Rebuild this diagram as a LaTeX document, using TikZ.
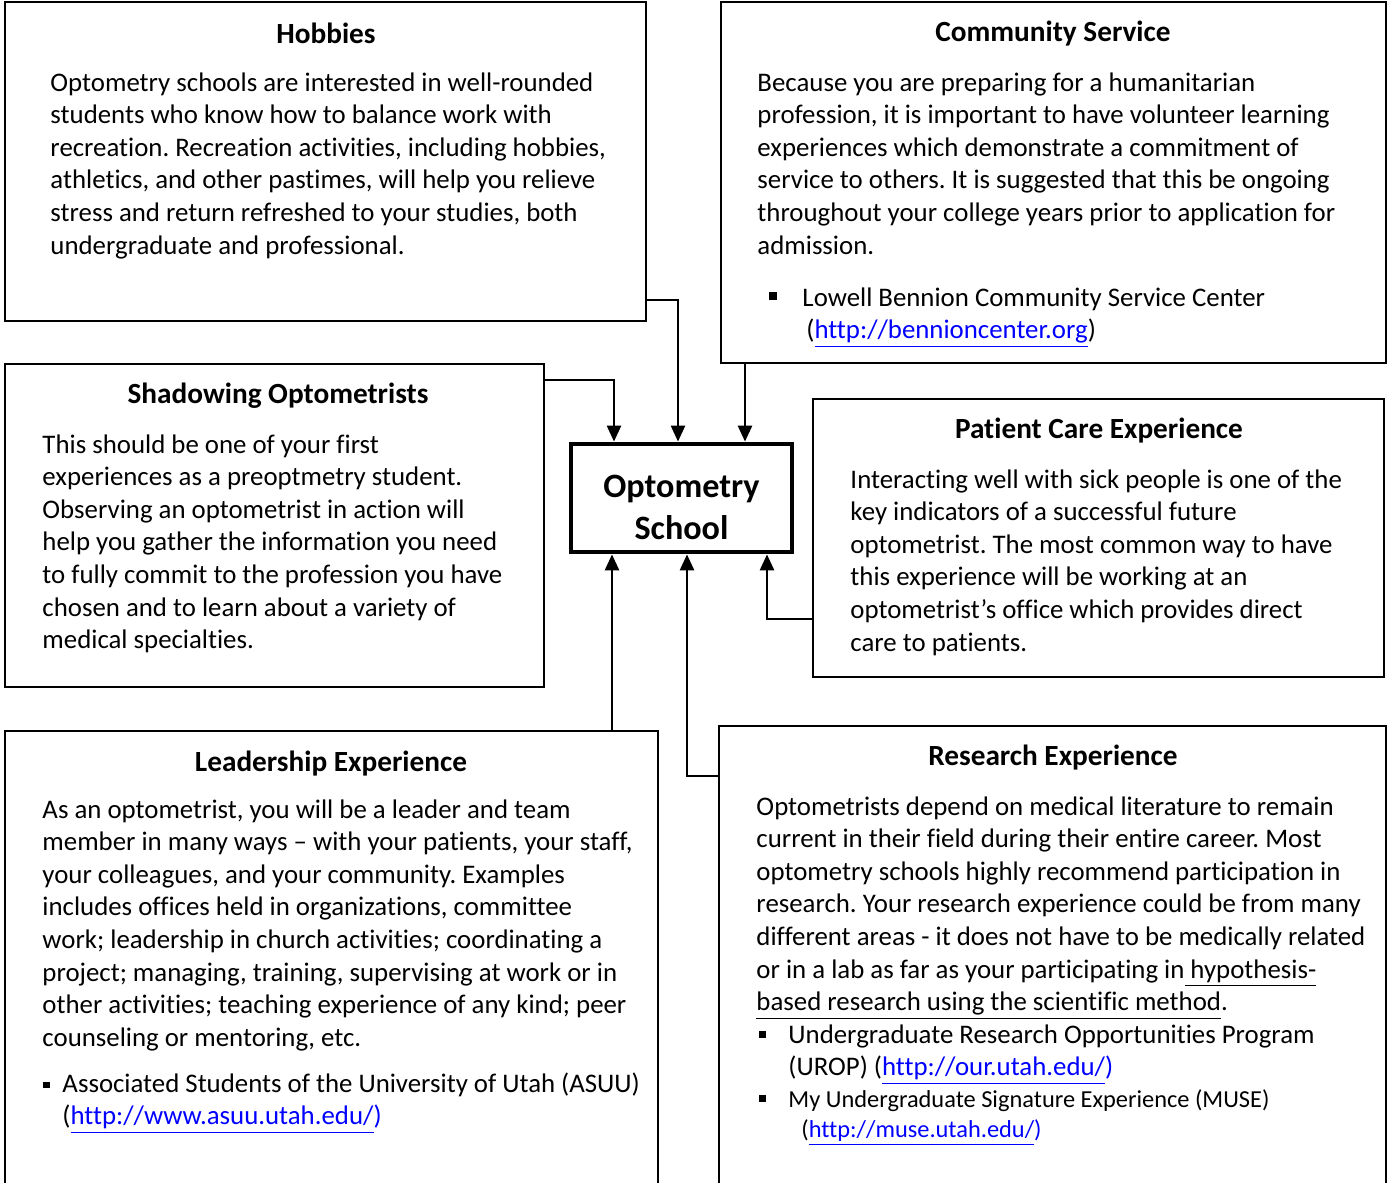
\documentclass[tikz,border=0pt]{standalone}
\usepackage{fontspec}
\setmainfont{Carlito}[Ligatures={TeX,NoCommon}]
\usetikzlibrary{arrows.meta,fit}
\frenchspacing

\newcommand\weblink[1]{\textcolor{blue}{\underline{#1}}}
\newcommand\sqbullet[3]{\llap{\rule[#3]{#1}{#1}\hspace{#2}}}

\begin{document}
\begin{tikzpicture}[
  x=0.41pt, y=-0.41pt,
  every node/.style={font=\fontsize{11}{13.37}\selectfont},
  panel/.style={draw, line width=0.75pt, inner sep=0pt},
  title/.style={font=\fontsize{12}{14.6}\selectfont\bfseries},
  body/.style={anchor=north west, align=left, inner sep=0pt,
               execute at begin node={\rule{0pt}{8pt}}},
  feed/.style={-{Triangle[length=6.5pt, width=5.8pt]}, line width=0.8pt},
]
\clip (0,0) rectangle (1389,1183);

% Boxes
\node[panel, fit={(5,2) (646,321)}] (hobbies) {};
\node[panel, fit={(721,2) (1386,363)}] (service) {};
\node[panel, fit={(5,364) (544,687)}] (shadow) {};
\node[panel, fit={(813,399) (1384,677)}] (patient) {};
\node[panel, fit={(5,731) (658,1200)}] (lead) {};
\node[panel, fit={(719,726) (1386,1200)}] (research) {};
\node[draw, line width=2pt, inner sep=0pt, minimum width=90.6pt,
      minimum height=44.3pt, align=center,
      font=\fontsize{14}{17}\selectfont\bfseries] (school) at (681.5,498)
      {\rule{0pt}{17pt}Optometry\\School};

% Hobbies
\node[title] (hobbiestitle) at (326,33) {Hobbies};
\node[body] (hobbiestext) at (50,72) {Optometry schools are interested in well-rounded\\
students who know how to balance work with\\
recreation. Recreation activities, including hobbies,\\
athletics, and other pastimes, will help you relieve\\
stress and return refreshed to your studies, both\\
undergraduate and professional.};

% Community service
\node[title] (servicetitle) at (1053,34) {Community Service};
\node[body] (servicetext) at (757,72) {Because you are preparing for a humanitarian\\
profession, it is important to have volunteer learning\\
experiences which demonstrate a commitment of\\
service to others. It is suggested that this be ongoing\\
throughout your college years prior to application for\\
admission.};
\node[body] (serviceitem) at (802,287) {\sqbullet{3.3pt}{10.3pt}{2.4pt}Lowell Bennion Community Service Center\\
\hspace{1.6pt}(\weblink{http://bennioncenter.org})};

% Shadowing
\node[title] (shadowtitle) at (278,396) {Shadowing Optometrists};
\node[body] (shadowtext) at (42,434) {This should be one of your first\\
experiences as a preoptmetry student.\\
Observing an optometrist in action will\\
help you gather the information you need\\
to fully commit to the profession you have\\
chosen and to learn about a variety of\\
medical specialties.};

% Patient care
\node[title] (patienttitle) at (1099,431) {Patient Care Experience};
\node[body] (patienttext) at (850,469) {Interacting well with sick people is one of the\\
key indicators of a successful future\\
optometrist. The most common way to have\\
this experience will be working at an\\
optometrist's office which provides direct\\
care to patients.};

% Leadership
\node[title] (leadtitle) at (331,764) {Leadership Experience};
\node[body] (leadtext) at (42,799) {As an optometrist, you will be a leader and team\\
member in many ways – with your patients, your staff,\\
your colleagues, and your community. Examples\\
includes offices held in organizations, committee\\
work; leadership in church activities; coordinating a\\
project; managing, training, supervising at work or in\\
other activities; teaching experience of any kind; peer\\
counseling or mentoring, etc.};
\node[body] (leaditem) at (62,1072) {\sqbullet{2.5pt}{5.3pt}{1.8pt}Associated Students of the University of Utah (ASUU)\\
(\weblink{http://www.asuu.utah.edu/}\textcolor{blue}{)}};

% Research
\node[title] (researchtitle) at (1053,758) {Research Experience};
\node[body] (researchtext) at (756,796) {Optometrists depend on medical literature to remain\\
current in their field during their entire career. Most\\
optometry schools highly recommend participation in\\
research. Your research experience could be from many\\
different areas - it does not have to be medically related\\
or in a lab as far as your participating in\underline{\ hypothesis-}\\
\underline{based research using the scientific method}.};
\node[body] (researchitemA) at (788,1024) {\sqbullet{2.9pt}{9.2pt}{2.2pt}Undergraduate Research Opportunities Program\\
(UROP) (\weblink{http://our.utah.edu/}\textcolor{blue}{)}};
\node[body, font=\fontsize{10}{12.4}\selectfont] (researchitemB) at (788,1089)
  {\sqbullet{2.9pt}{9.2pt}{2.2pt}My Undergraduate Signature Experience (MUSE)\\
\hspace{5.3pt}(\weblink{http://muse.utah.edu/}\textcolor{blue}{)}};

% Connectors
\draw[feed] (hobbies.east |- 0,300) -| (school.north -| 678,0);
\draw[feed] (shadow.east |- 0,380) -| (school.north -| 614,0);
\draw[feed] (service.south -| 745,0) -- (school.north -| 745,0);
\draw[feed] (patient.west |- 0,619) -| (school.south -| 767,0);
\draw[feed] (lead.north -| 612,0) -- (school.south -| 612,0);
\draw[feed] (research.west |- 0,776) -| (school.south -| 687,0);
\end{tikzpicture}
\end{document}
